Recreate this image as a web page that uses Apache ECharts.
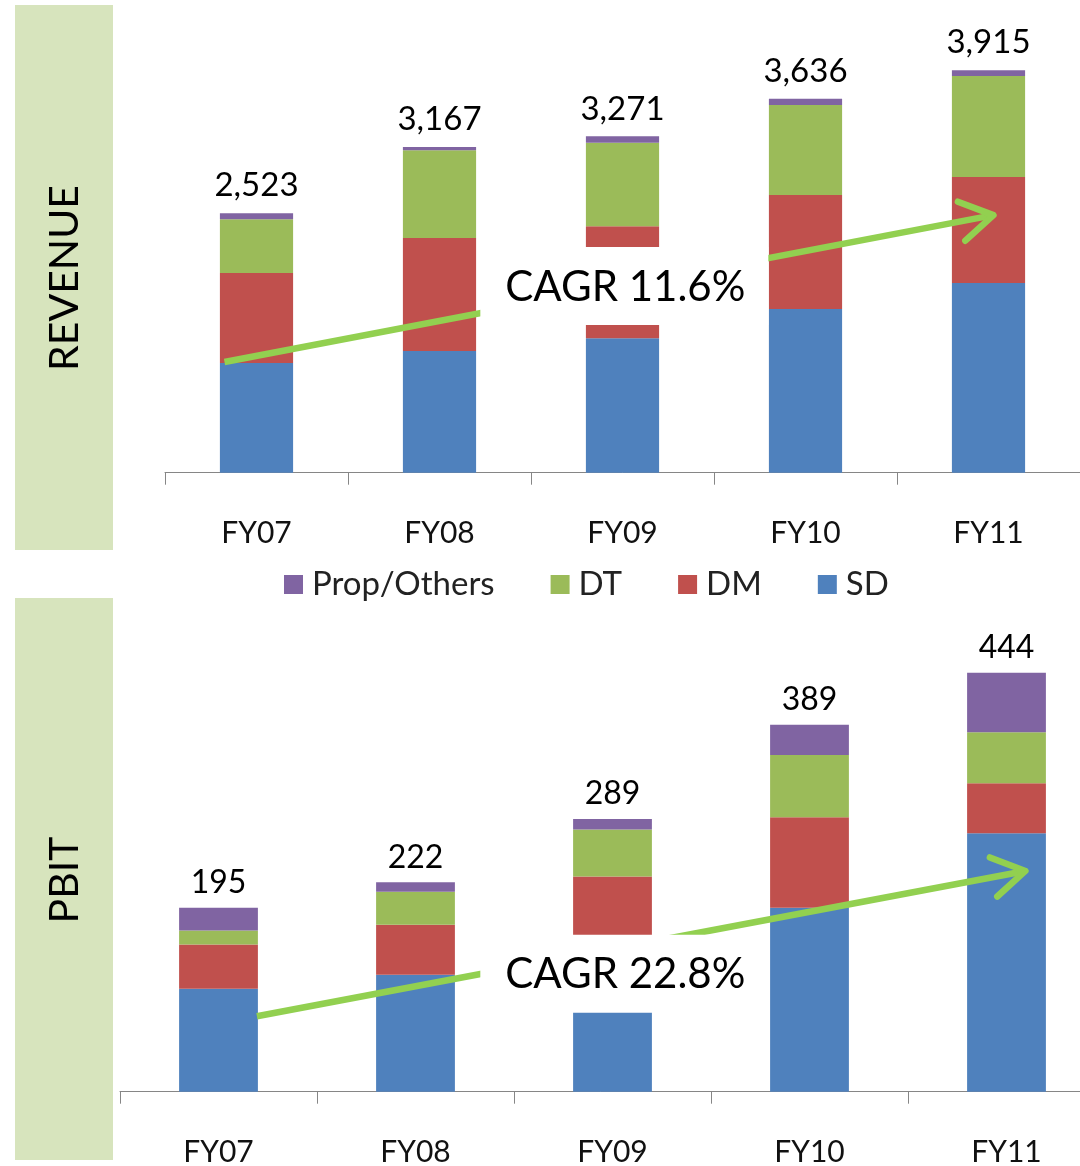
<!DOCTYPE html>
<html>
<head>
<meta charset="utf-8">
<script src="https://cdn.jsdelivr.net/npm/echarts@6/dist/echarts.min.js"></script>
<style>
html,body{margin:0;padding:0;background:#fff;}
#c{width:1080px;height:1166px;}
</style>
</head>
<body>
<div id="c"></div>
<script>
// ---------- data ----------
const categories = ['FY07', 'FY08', 'FY09', 'FY10', 'FY11'];
const seriesNames = ['SD', 'DM', 'DT', 'Prop/Others'];
const legendOrder = ['Prop/Others', 'DT', 'DM', 'SD'];

const revSD   = [1066, 1183, 1307, 1591, 1844];
const revDM   = [875, 1099, 1091, 1109, 1031];
const revDT   = [525, 855, 810, 875, 982];
const revProp = [57, 30, 63, 61, 58];

const pbitSD   = [109, 124, 155, 195, 274];
const pbitDM   = [47, 53, 73, 96, 53];
const pbitDT   = [15, 35, 50, 66, 54];
const pbitProp = [24, 10, 11, 32, 63];

const panelTitles = ['REVENUE', 'PBIT'];
const cagrLabels = ['CAGR 11.6%', 'CAGR 22.8%'];
// arrow anchors: [category index (fractional), value]
const revArrow  = [[-0.175, 1076], [4.027, 2505]];
const pbitArrow = [[0.195, 80], [4.096, 234]];
// CAGR label centres: [category index, value]
const revCagrPos  = [2.01, 1815];
const pbitCagrPos = [2.06, 125];

// ---------- style ----------
const colors = { 'SD': '#4F81BD', 'DM': '#C0504D', 'DT': '#9BBB59', 'Prop/Others': '#8064A2' };
const FONT = 'Lato';
const arrowColor = '#92D050';

const chart = echarts.init(document.getElementById('c'), null, { renderer: 'canvas' });

function stackSeries(gridIdx, arrs, labelSize, labelDist) {
  return seriesNames.map((name, k) => {
    const s = {
      name: name,
      type: 'bar',
      stack: 'g' + gridIdx,
      xAxisIndex: gridIdx,
      yAxisIndex: gridIdx,
      barWidth: '40%',
      itemStyle: { color: colors[name] },
      data: arrs[k],
      z: 2
    };
    if (k === arrs.length - 1) {
      s.label = {
        show: true,
        position: 'top',
        distance: labelDist,
        fontFamily: FONT,
        fontSize: labelSize,
        color: '#000',
        formatter: p => {
          let t = 0;
          arrs.forEach(a => { t += a[p.dataIndex]; });
          return t.toLocaleString('en-US');
        }
      };
    }
    return s;
  });
}

const axisCommon = {
  type: 'category',
  data: categories,
  axisLine: { show: true, lineStyle: { color: '#868686', width: 1 } },
  axisTick: { show: true, alignWithLabel: false, length: 12, lineStyle: { color: '#868686' } },
  axisLabel: { fontFamily: FONT, fontSize: 30, color: '#111', margin: 46 }
};

const option = {
  animation: false,
  backgroundColor: '#fff',
  grid: [
    { left: 165, top: 10, width: 915, height: 462.7, outerBoundsMode: 'none' },
    { left: 120, top: 620, width: 985, height: 471.7, outerBoundsMode: 'none' }
  ],
  xAxis: [
    Object.assign({ gridIndex: 0 }, axisCommon),
    Object.assign({ gridIndex: 1 }, axisCommon)
  ],
  yAxis: [
    { type: 'value', gridIndex: 0, min: 0, max: 4500, show: false, splitLine: { show: false } },
    { type: 'value', gridIndex: 1, min: 0, max: 500, show: false, splitLine: { show: false } }
  ],
  legend: {
    data: legendOrder,
    left: 279,
    top: 563,
    itemWidth: 19,
    itemHeight: 19,
    itemGap: 56,
    icon: 'rect',
    textStyle: { fontFamily: FONT, fontSize: 33, color: '#222', padding: [0, 0, 0, 4] }
  },
  series: [].concat(
    stackSeries(0, [revSD, revDM, revDT, revProp], 33, 11),
    stackSeries(1, [pbitSD, pbitDM, pbitDT, pbitProp], 32, 9)
  )
};
chart.setOption(option);

// ---------- annotations ----------
function toPx(g, idx, val) {
  const a = chart.convertToPixel({ gridIndex: g }, [0, val]);
  const b = chart.convertToPixel({ gridIndex: g }, [1, val]);
  return [a[0] + idx * (b[0] - a[0]), a[1]];
}

function arrowEls(g, anchors) {
  const p0 = toPx(g, anchors[0][0], anchors[0][1]);
  const p1 = toPx(g, anchors[1][0], anchors[1][1]);
  const ang = Math.atan2(p1[1] - p0[1], p1[0] - p0[0]);
  const back = ang + Math.PI;
  const L = 38, spread = 0.55;
  const armA = [p1[0] + L * Math.cos(back - spread), p1[1] + L * Math.sin(back - spread)];
  const armB = [p1[0] + L * Math.cos(back + spread), p1[1] + L * Math.sin(back + spread)];
  const endLine = [p1[0] - 4 * Math.cos(ang), p1[1] - 4 * Math.sin(ang)];
  return [
    { type: 'line', z: 50, shape: { x1: p0[0], y1: p0[1], x2: endLine[0], y2: endLine[1] },
      style: { stroke: arrowColor, lineWidth: 6.5, lineCap: 'butt' } },
    { type: 'polyline', z: 50, shape: { points: [armA, p1, armB] },
      style: { stroke: arrowColor, lineWidth: 6.5, lineCap: 'round', lineJoin: 'round', fill: null } }
  ];
}

function cagrEls(g, pos, text) {
  const c = toPx(g, pos[0], pos[1]);
  const w = 288, h = 78;
  return [
    { type: 'rect', z: 60, shape: { x: c[0] - w / 2, y: c[1] - h / 2, width: w, height: h },
      style: { fill: '#fff' } },
    { type: 'text', z: 61, x: c[0] + 1, y: c[1] + 1,
      style: { text: text, fontFamily: FONT, fontSize: 42, fill: '#000', align: 'center', verticalAlign: 'middle' } }
  ];
}

const panels = [
  { type: 'rect', z: 0, shape: { x: 15, y: 5, width: 98, height: 545 }, style: { fill: '#D7E4BD' } },
  { type: 'rect', z: 0, shape: { x: 15, y: 598, width: 98, height: 562 }, style: { fill: '#D7E4BD' } },
  { type: 'text', z: 1, x: 65, y: 278, rotation: Math.PI / 2,
    style: { text: panelTitles[0], fontFamily: FONT, fontSize: 41, fill: '#000', align: 'center', verticalAlign: 'middle' } },
  { type: 'text', z: 1, x: 65, y: 880, rotation: Math.PI / 2,
    style: { text: panelTitles[1], fontFamily: FONT, fontSize: 41, fill: '#000', align: 'center', verticalAlign: 'middle' } }
];

chart.setOption({
  graphic: [].concat(
    panels,
    arrowEls(0, revArrow),
    arrowEls(1, pbitArrow),
    cagrEls(0, revCagrPos, cagrLabels[0]),
    cagrEls(1, pbitCagrPos, cagrLabels[1])
  )
});
</script>
</body>
</html>
